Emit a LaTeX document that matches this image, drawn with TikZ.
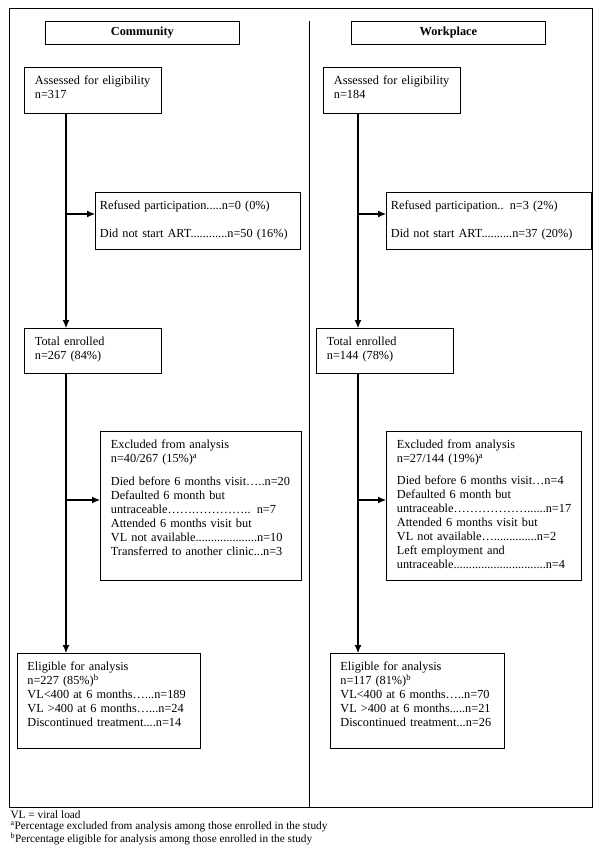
\documentclass[tikz,border=0pt]{standalone}
\usepackage{fontspec}
\setmainfont{Liberation Serif}
\usetikzlibrary{arrows.meta}

\begin{document}
\begin{tikzpicture} [x=1pt,y=-1pt,->,>={Latex[length=8pt,width=7pt]},line width=1.1pt,
  every node/.style={font=\fontsize{12.3}{14}\selectfont},
  box/.style={draw,line width=0.8pt,anchor=north west,align=left,
    inner xsep=10.5pt,inner ysep=8.5pt,text height=9pt},
  head/.style={draw,line width=0.8pt,anchor=north west,inner sep=0pt,
    minimum width=194pt,minimum height=23pt,
    font=\fontsize{12.3}{14}\selectfont\bfseries}]

  \useasboundingbox (0,0) rectangle (600,858);

  % frame and divider
  \draw[-,line width=1pt] (9,9) rectangle (592,807);
  \draw[-,line width=0.8pt] (309,21) -- (309,807);

  \node[head] (hdC) at (45,21) {Community};
  \node[head] (hdW) at (351,21) {Workplace};

  % community
  \node[box,text width=116pt,text depth=20pt] (assC) at (24,67)
    {Assessed for eligibility\\n=317};
  \node[box,inner xsep=4.5pt,text width=196pt,text depth=31pt] (refC) at (95,192)
    {Refused participation.....n=0 (0\%)\\[14pt]Did not start ART............n=50 (16\%)};
  \node[box,text width=116pt,text depth=19pt] (totC) at (24,328)
    {Total enrolled\\n=267 (84\%)};
  \node[box,text width=180pt,text depth=123pt] (excC) at (100,431)
    {Excluded from analysis\\n=40/267 (15\%)\textsuperscript{a}\\[9pt]
     Died before 6 months visit…..n=20\\
     Defaulted 6 month but\\
     untraceable…….………….. n=7\\
     Attended 6 months visit but\\
     VL not available....................n=10\\
     Transferred to another clinic...n=3};
  \node[box,inner xsep=10pt,text width=163pt,text depth=69pt] (eligC) at (17,653)
    {Eligible for analysis\\n=227 (85\%)\textsuperscript{b}\\
     VL<400~at~6~months…...n=189\\
     VL~>400~at~6~months…...n=24\\
     Discontinued~treatment....n=14};

  % workplace
  \node[box,text width=116pt,text depth=20pt] (assW) at (323,67)
    {Assessed for eligibility\\n=184};
  \node[box,inner xsep=4.5pt,text width=196pt,text depth=31pt] (refW) at (386,192)
    {Refused participation.. n=3 (2\%)\\[14pt]Did not start ART..........n=37 (20\%)};
  \node[box,text width=116pt,text depth=19pt] (totW) at (316,328)
    {Total enrolled\\n=144 (78\%)};
  \node[box,text width=174pt,text depth=123pt] (excW) at (386,431)
    {Excluded from analysis\\n=27/144 (19\%)\textsuperscript{a}\\[8pt]
     Died before 6 months visit…n=4\\
     Defaulted 6 month but\\
     untraceable………………......n=17\\
     Attended 6 months visit but\\
     VL not available…..............n=2\\
     Left employment and\\
     untraceable..............................n=4};
  \node[box,inner xsep=10pt,text width=154pt,text depth=69pt] (eligW) at (330,653)
    {Eligible for analysis\\n=117 (81\%)\textsuperscript{b}\\
     VL<400~at~6~months…..n=70\\
     VL~>400~at~6~months.....n=21\\
     Discontinued~treatment...n=26};

  % trunks and branches
  \coordinate (trC) at (66,0);
  \coordinate (trW) at (358,0);
  \coordinate (brC1) at (66,214);
  \coordinate (brC2) at (66,500);
  \coordinate (brW1) at (358,214);
  \coordinate (brW2) at (358,500);

  \draw (assC.south -| trC) -- (totC.north -| trC);
  \draw (totC.south -| trC) -- (eligC.north -| trC);
  \draw (brC1) -- (brC1 -| refC.west);
  \draw (brC2) -- (brC2 -| excC.west);

  \draw (assW.south -| trW) -- (totW.north -| trW);
  \draw (totW.south -| trW) -- (eligW.north -| trW);
  \draw (brW1) -- (brW1 -| refW.west);
  \draw (brW2) -- (brW2 -| excW.west);

  \node[anchor=north west,align=left,inner sep=0pt,
    font=\fontsize{11.3}{11.2}\selectfont] (notes) at (10,810)
    {VL = viral load\\
     \textsuperscript{a}Percentage excluded from analysis among those enrolled in the study\\
     \textsuperscript{b}Percentage eligible for analysis among those enrolled in the study};

\end{tikzpicture}
\end{document}
